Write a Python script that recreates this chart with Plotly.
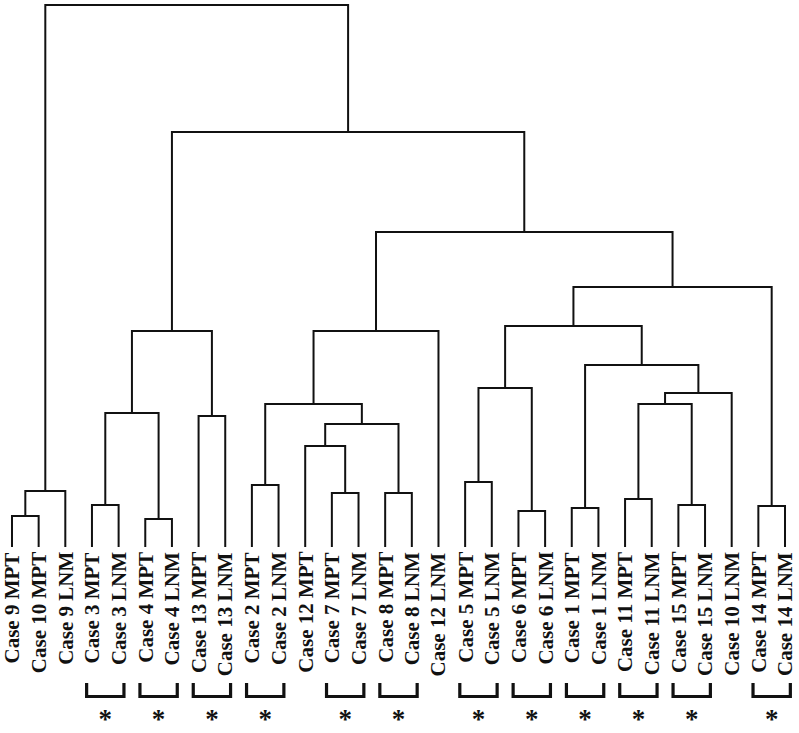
import plotly.graph_objects as go

# Leaf labels in dendrogram order
leaf_labels = [
    "Case 9 MPT", "Case 10 MPT", "Case 9 LNM", "Case 3 MPT", "Case 3 LNM",
    "Case 4 MPT", "Case 4 LNM", "Case 13 MPT", "Case 13 LNM", "Case 2 MPT",
    "Case 2 LNM", "Case 12 MPT", "Case 7 MPT", "Case 7 LNM", "Case 8 MPT",
    "Case 8 LNM", "Case 12 LNM", "Case 5 MPT", "Case 5 LNM", "Case 6 MPT",
    "Case 6 LNM", "Case 1 MPT", "Case 1 LNM", "Case 11 MPT", "Case 11 LNM",
    "Case 15 MPT", "Case 15 LNM", "Case 10 LNM", "Case 14 MPT", "Case 14 LNM",
]

# Merges (id m0..m28): left child, right child, merge height
merge_left = [
    "Case 9 MPT", "m0", "Case 3 MPT", "Case 4 MPT", "m2", "Case 13 MPT", "m4",
    "Case 2 MPT", "Case 7 MPT", "Case 12 MPT", "Case 8 MPT", "m9", "m7", "m12",
    "Case 5 MPT", "Case 6 MPT", "m14", "Case 1 MPT", "Case 11 MPT", "Case 15 MPT",
    "m18", "m20", "m17", "m16", "Case 14 MPT", "m23", "m13", "m6", "m1",
]
merge_right = [
    "Case 10 MPT", "Case 9 LNM", "Case 3 LNM", "Case 4 LNM", "m3", "Case 13 LNM", "m5",
    "Case 2 LNM", "Case 7 LNM", "m8", "Case 8 LNM", "m10", "m11", "Case 12 LNM",
    "Case 5 LNM", "Case 6 LNM", "m15", "Case 1 LNM", "Case 11 LNM", "Case 15 LNM",
    "m19", "Case 10 LNM", "m21", "m22", "Case 14 LNM", "m24", "m25", "m26", "m27",
]
merge_height = [
    3.1, 5.6, 4.2, 2.8, 13.4, 13.1, 21.6,
    6.2, 5.4, 10.1, 5.4, 12.3, 14.3, 21.6,
    6.5, 3.6, 15.9, 3.9, 4.8, 4.2,
    14.3, 15.4, 18.2, 22.1, 4.1, 26.0, 31.5, 41.5, 54.2,
]

# Pairs marked with a bracket and asterisk (left leaf, right leaf)
starred_pairs = [
    ("Case 3 MPT", "Case 3 LNM"), ("Case 4 MPT", "Case 4 LNM"),
    ("Case 13 MPT", "Case 13 LNM"), ("Case 2 MPT", "Case 2 LNM"),
    ("Case 7 MPT", "Case 7 LNM"), ("Case 8 MPT", "Case 8 LNM"),
    ("Case 5 MPT", "Case 5 LNM"), ("Case 6 MPT", "Case 6 LNM"),
    ("Case 1 MPT", "Case 1 LNM"), ("Case 11 MPT", "Case 11 LNM"),
    ("Case 15 MPT", "Case 15 LNM"), ("Case 14 MPT", "Case 14 LNM"),
]

# ---- compute dendrogram geometry ----
pos = {lab: (float(i), 0.0) for i, lab in enumerate(leaf_labels)}
xs, ys = [], []
for k, (a, b, h) in enumerate(zip(merge_left, merge_right, merge_height)):
    xa, ya = pos[a]
    xb, yb = pos[b]
    xs += [xa, xa, xb, xb, None]
    ys += [ya, h, h, yb, None]
    pos[f"m{k}"] = ((xa + xb) / 2.0, h)

fig = go.Figure()
fig.add_trace(go.Scatter(x=xs, y=ys, mode="lines",
                         line=dict(color="#111111", width=2),
                         hoverinfo="skip", showlegend=False))

# brackets
bx, by = [], []
ax_, ay_ = [], []
idx = {lab: i for i, lab in enumerate(leaf_labels)}
for l, r in starred_pairs:
    a, b = idx[l], idx[r]
    bx += [a - 0.2, a - 0.2, b + 0.2, b + 0.2, None]
    by += [-13.6, -14.95, -14.95, -13.6, None]
    ax_.append((a + b) / 2.0)
    ay_.append(-17.45)
fig.add_trace(go.Scatter(x=bx, y=by, mode="lines",
                         line=dict(color="#111111", width=3.2),
                         hoverinfo="skip", showlegend=False))
fig.add_trace(go.Scatter(x=ax_, y=ay_, mode="text", text=["<b>*</b>"] * len(ax_),
                         textfont=dict(family="Liberation Serif", size=27, color="#111111"),
                         textposition="middle center",
                         hoverinfo="skip", showlegend=False))

for i, lab in enumerate(leaf_labels):
    fig.add_annotation(x=i, y=-0.3, text="<b>" + lab + "</b>", textangle=-90,
                       xanchor="center", yanchor="top", showarrow=False,
                       font=dict(family="Liberation Serif", size=21, color="#111111"))

fig.update_layout(
    width=799, height=733,
    margin=dict(l=0, r=0, t=0, b=0),
    paper_bgcolor="white", plot_bgcolor="white",
    xaxis=dict(range=[-0.45, 29.525], visible=False, fixedrange=True),
    yaxis=dict(range=[-18.6, 54.7], visible=False, fixedrange=True),
)
fig.write_html("out.html", config={"displayModeBar": False},
               post_script="document.body.style.margin='0';document.body.style.overflow='hidden';")
